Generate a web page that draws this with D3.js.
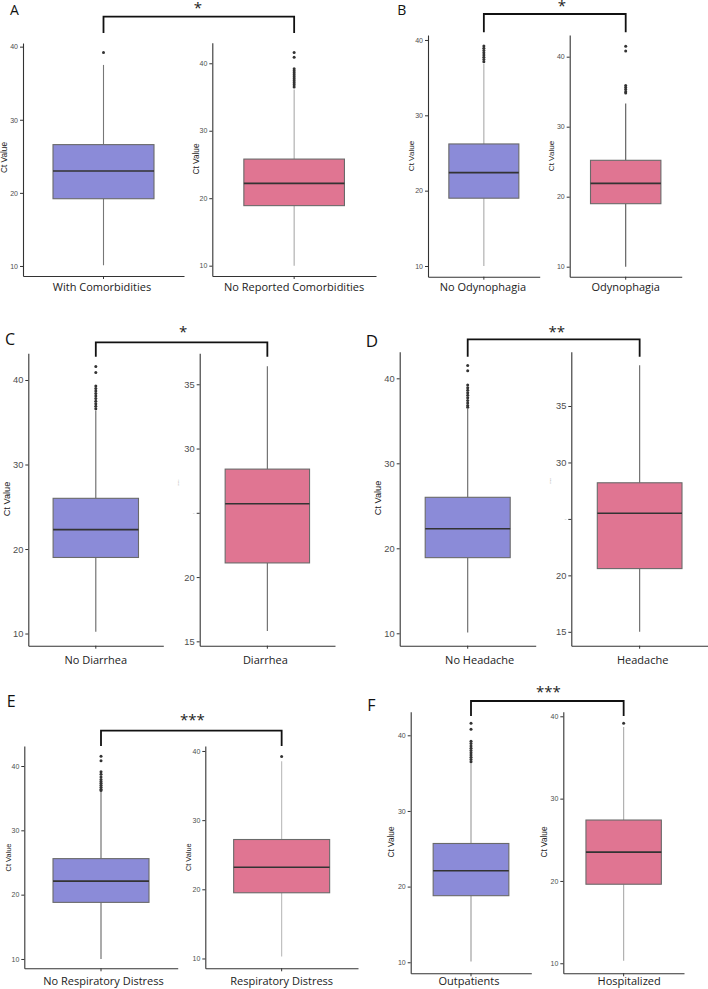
<!DOCTYPE html>
<html><head><meta charset="utf-8">
<script src="https://cdn.jsdelivr.net/npm/d3@7"></script>
<style>body{margin:0;background:#fff}</style>
</head><body><svg id="chart" width="708" height="989"></svg>
<script>
// ---------------- DATA ----------------
const panelLetters = ["A","B","C","D","E","F"];
const significance = ["*","*","*","**","***","***"];
const groups = ["With Comorbidities","No Reported Comorbidities","No Odynophagia","Odynophagia",
  "No Diarrhea","Diarrhea","No Headache","Headache","No Respiratory Distress","Respiratory Distress",
  "Outpatients","Hospitalized"];
const yTitle = "Ct Value";
const whiskerLow  = [10.1,10.0,10.0,10.0,10.2,15.8,10.1,15.0,10.0,10.3,10.1,10.3];
const q1          = [19.2,18.9,19.0,19.0,19.0,21.1,18.9,20.6,18.8,19.5,18.8,19.6];
const median      = [23.0,22.2,22.4,21.9,22.3,25.7,22.3,25.5,22.1,23.2,22.1,23.5];
const q3          = [26.6,25.8,26.2,25.2,26.0,28.4,26.0,28.2,25.6,27.2,25.7,27.4];
const whiskerHigh = [37.5,36.1,36.8,33.3,36.4,36.4,36.4,38.6,36.0,38.5,36.3,38.7];
const outliers = [
  [39.2],
  [41.6,40.9,39.2,38.9,38.6,38.3,38.0,37.7,37.4,37.1,36.8,36.5],
  [39.2,38.9,38.6,38.3,38.0,37.7,37.4,37.1],
  [41.5,40.8,35.9,35.6,35.3,35.0,34.8],
  [41.6,40.9,39.3,39.0,38.7,38.4,38.1,37.8,37.5,37.2,36.9,36.6],
  [],
  [41.5,40.9,39.2,38.9,38.6,38.3,38.0,37.7,37.4,37.1,36.8,36.6],
  [],
  [41.5,40.8,39.1,38.7,38.3,37.9,37.6,37.3,37.0,36.7,36.4,36.2],
  [39.2],
  [41.6,40.8,39.2,38.9,38.6,38.3,38.0,37.7,37.4,37.1,36.8,36.5],
  [39.15]
];
const yTicks = [
  [10,20,30,40],[10,20,30,40],[10,20,30,40],[10,20,30,40],
  [10,20,30,40],[15,20,25,30,35],[10,20,30,40],[15,20,25,30,35],
  [10,20,30,40],[10,20,30,40],[10,20,30,40],[10,20,30,40]
];
const yDomains = [
  [8.63,40.5],[8.47,43.05],[8.58,40.66],[8.57,43.1],
  [8.56,43.16],[14.66,37.41],[8.54,43.13],[13.77,39.81],
  [8.55,43.11],[8.58,40.72],[8.54,43.12],[8.78,40.56]
];

// ---------------- LAYOUT (positions / styles) ----------------
const sub = [
  {x:[23,184],    y:[43,276],     bw:101,  tfs:7,   tx:4.5,   ty:157.5, tts:8.3, wc:"#777", ly:291, ldx:-1.5},
  {x:[212.3,376], y:[42.7,276],   bw:100.6,tfs:7,   tx:196,   ty:159,   tts:8.3, wc:"#aaa", ly:291, ldx:0},
  {x:[428,539.7], y:[35,276.7],   bw:70,   tfs:7,   tx:410.7, ty:156,   tts:8.1, wc:"#aaa", ly:291, ldx:-1},
  {x:[569.7,681.7],y:[35,276.7],  bw:70.4, tfs:7,   tx:551.3, ty:156,   tts:8.1, wc:"#555", ly:291, ldx:0},
  {x:[28.3,163.3],y:[353.3,645.7],bw:85.4, tfs:9.3, tx:6.7,   ty:499,   tts:9.2, wc:"#666", ly:664, ldx:0},
  {x:[199.7,335], y:[353.3,645.7],bw:84.4, tfs:9.3, tx:178.3, ty:482.7, tts:1.6, wc:"#666", ly:664, ldx:-2, tiny:25},
  {x:[399.7,535.7],y:[351.7,645.7],bw:85,  tfs:9.3, tx:377.7, ty:498,   tts:9.2, wc:"#666", ly:664, ldx:12},
  {x:[571.3,708], y:[351.7,645.7],bw:84.7, tfs:9.3, tx:550.7, ty:481,   tts:1.6, wc:"#666", ly:664, ldx:3, tiny:25},
  {x:[24.3,177.7],y:[746,968.3],  bw:96,   tfs:7,   tx:8.8,   ty:857.5, tts:7.4, wc:"#666", ly:985, ldx:2.5},
  {x:[205.3,358], y:[746,968.3],  bw:96,   tfs:7,   tx:188.8, ty:857.2, tts:7.4, wc:"#bbb", ly:985, ldx:0},
  {x:[410.7,531.3],y:[711.7,973.3],bw:75.7,tfs:7,   tx:391,   ty:842,   tts:8.3, wc:"#999", ly:985, ldx:-2},
  {x:[563.3,684], y:[711.7,973.3],bw:75.4, tfs:7,   tx:544,   ty:842,   tts:8.3, wc:"#aaa", ly:985, ldx:5.5}
];
const pan = [
  {lx:10,   ly:15,  lfs:14, by:16.7, bb:33,    sdx:-1,  sy:13 },
  {lx:397.3,ly:15,  lfs:14, by:14,   bb:32.3,  sdx:7,   sy:11 },
  {lx:5,    ly:345, lfs:16, by:342.3,bb:356.7, sdx:1.5, sy:337 },
  {lx:365.7,ly:347, lfs:17, by:339.3,bb:356.7, sdx:3,   sy:337 },
  {lx:6.7,  ly:707, lfs:16, by:730.7,bb:746,   sdx:1,   sy:725 },
  {lx:367.3,ly:711, lfs:16, by:701,  bb:716,   sdx:1,   sy:697 }
];
const fills = ["#8b8bd8","#e07592"];

const svg = d3.select("#chart");
svg.append("rect").attr("width",708).attr("height",989).attr("fill","#fff");

const xs = [], ysc = [];
groups.forEach((g,i)=>{
  const L = sub[i];
  const W = L.x[1]-L.x[0];
  const p = (W - L.bw)/(W + L.bw);
  const x = d3.scaleBand().domain([g]).range(L.x).paddingInner(p).paddingOuter(p);
  const y = d3.scaleLinear().domain(yDomains[i]).range([L.y[1], L.y[0]]);
  xs.push(x); ysc.push(y);
  const G = svg.append("g");

  // y axis
  const ya = G.append("g").attr("transform",`translate(${L.x[0]},0)`)
    .call(d3.axisLeft(y).tickValues(yTicks[i]).tickSize(3).tickSizeOuter(0).tickPadding(2));
  ya.select(".domain").attr("stroke","#333").attr("stroke-width",1.1);
  ya.selectAll(".tick line").attr("stroke","#333");
  ya.selectAll(".tick text").attr("font-family","Liberation Sans, Arial, sans-serif")
    .attr("font-size",d=> (L.tiny===d? 1.5 : L.tfs)).attr("fill",d=>L.tiny===d?"#bbb":"#4d4d4d");

  // x axis
  const xa = G.append("g").attr("transform",`translate(0,${L.y[1]})`)
    .call(d3.axisBottom(x).tickSize(3).tickSizeOuter(0).tickFormat(""));
  xa.select(".domain").attr("stroke","#333").attr("stroke-width",1.1);
  xa.selectAll(".tick line").attr("stroke","#333");

  // category label
  G.append("text").attr("x",x(g)+x.bandwidth()/2+L.ldx).attr("y",L.ly)
    .attr("text-anchor","middle").attr("font-family","Open Sans, sans-serif")
    .attr("font-size",11).attr("fill","#222").text(g);

  // y title
  G.append("text").attr("transform",`translate(${L.tx},${L.ty}) rotate(-90)`)
    .attr("text-anchor","middle").attr("dy","0.35em")
    .attr("font-family","Liberation Sans, Arial, sans-serif")
    .attr("font-size",L.tts).attr("fill",L.tts<3?"#999":"#222").text(yTitle);

  const cx = x(g)+x.bandwidth()/2;
  // whiskers
  G.append("line").attr("x1",cx).attr("x2",cx).attr("y1",y(whiskerLow[i])).attr("y2",y(q1[i]))
    .attr("stroke",L.wc).attr("stroke-width",1.1);
  G.append("line").attr("x1",cx).attr("x2",cx).attr("y1",y(q3[i])).attr("y2",y(whiskerHigh[i]))
    .attr("stroke",L.wc).attr("stroke-width",1.1);
  // box
  G.append("rect").attr("x",x(g)).attr("width",x.bandwidth())
    .attr("y",y(q3[i])).attr("height",y(q1[i])-y(q3[i]))
    .attr("fill",fills[i%2]).attr("stroke","#6a6a6a").attr("stroke-width",1.1);
  // median
  G.append("line").attr("x1",x(g)).attr("x2",x(g)+x.bandwidth())
    .attr("y1",y(median[i])).attr("y2",y(median[i]))
    .attr("stroke","#333").attr("stroke-width",1.6);
  // outliers
  G.selectAll("circle.o").data(outliers[i]).enter().append("circle")
    .attr("cx",cx).attr("cy",d=>y(d)).attr("r",1.5).attr("fill","#333");
});

// panel letters, brackets, stars
panelLetters.forEach((lt,k)=>{
  const P = pan[k];
  svg.append("text").attr("x",P.lx).attr("y",P.ly).attr("font-family","Open Sans, sans-serif")
    .attr("font-size",P.lfs).attr("fill","#111").text(lt);
  const a = 2*k, b = 2*k+1;
  const xa = xs[a](groups[a])+xs[a].bandwidth()/2;
  const xb = xs[b](groups[b])+xs[b].bandwidth()/2;
  svg.append("path").attr("d",`M${xa},${P.bb}V${P.by}H${xb}V${P.bb}`)
    .attr("fill","none").attr("stroke","#111").attr("stroke-width",1.8);
  svg.append("text").attr("x",(xa+xb)/2+P.sdx).attr("y",P.sy).attr("text-anchor","middle")
    .attr("font-family","Open Sans, sans-serif").attr("font-size",15).attr("fill","#222")
    .text(significance[k]);
});
</script></body></html>
